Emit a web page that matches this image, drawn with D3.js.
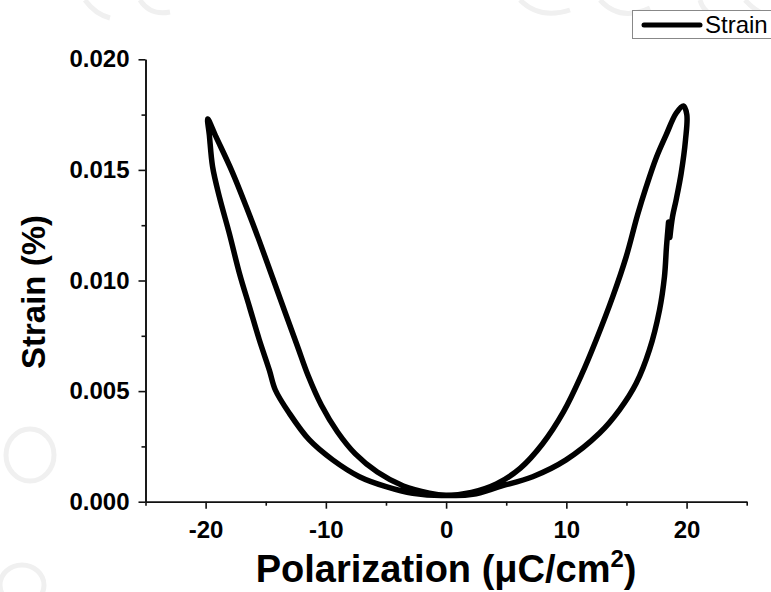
<!DOCTYPE html>
<html>
<head>
<meta charset="utf-8">
<script src="https://cdn.jsdelivr.net/npm/d3@7"></script>
<style>
  body { margin: 0; background: #fff; }
  svg { display: block; font-family: "Liberation Sans", Arial, sans-serif; }
</style>
</head>
<body>
<svg id="chart" width="771" height="592"></svg>
<script>
// butterfly loop (strain in %)
var polarization = [
    18.61, 18.83, 19.13, 19.55, 19.91, 20.02, 19.74,
    19.13, 18.30, 17.47, 16.64, 15.92, 14.98, 13.86, 12.48, 11.26, 9.76, 8.01, 6.18, 4.18, 2.11, 0.00,
    -2.78, -4.99, -7.21, -9.43, -11.37, -13.04, -14.20, -14.70, -15.53, -16.36, -17.19, -18.03, -18.86, -19.42, -19.69, -19.82,
    -19.13, -17.78, -16.61, -15.53, -14.45, -13.37, -12.37, -11.46, -10.38, -9.03, -7.55, -5.72, -3.55, -1.39, 0.00,
    2.21, 4.43, 7.20, 9.98, 12.75, 14.42, 15.81, 16.91, 17.75, 18.16, 18.33, 18.50
];
var strain = [
    0.01195, 0.01288, 0.01364, 0.01485, 0.01635, 0.01750, 0.01789,
    0.01756, 0.01658, 0.01554, 0.01423, 0.01296, 0.01108, 0.00927, 0.00731, 0.00573, 0.00406, 0.00261, 0.00152, 0.00080, 0.00042, 0.00028,
    0.00038, 0.00068, 0.00113, 0.00189, 0.00279, 0.00400, 0.00505, 0.00595, 0.00731, 0.00882, 0.01033, 0.01213, 0.01379, 0.01514, 0.01658, 0.01730,
    0.01649, 0.01490, 0.01332, 0.01178, 0.01016, 0.00853, 0.00704, 0.00568, 0.00437, 0.00315, 0.00216, 0.00134, 0.00071, 0.00039, 0.00029,
    0.00033, 0.00068, 0.00113, 0.00189, 0.00309, 0.00415, 0.00535, 0.00686, 0.00867, 0.01017, 0.01153, 0.01264
];
var xMajor = [-20, -10, 0, 10, 20];
var xMinor = [-25, -15, -5, 5, 15, 25];
var yMajor = [0, 0.005, 0.010, 0.015, 0.020];
var yMinor = [0.0025, 0.0075, 0.0125, 0.0175];
var seriesName = "Strain";

var svg = d3.select("#chart");
var width = 771, height = 592;
var margin = {top: 59.3, right: 24.3, bottom: 90.3, left: 145.5};

var xScale = d3.scaleLinear()
    .domain([-25, 25])
    .range([margin.left, width - margin.right]);
var yScale = d3.scaleLinear()
    .domain([0, 0.02])
    .range([height - margin.bottom, margin.top]);

// faint watermark traces left in the background of the source image
var ghost = svg.append("g").attr("fill", "none").attr("stroke", "#f0f0f0").attr("stroke-width", 5);
ghost.append("ellipse").attr("cx", 30).attr("cy", 455).attr("rx", 24).attr("ry", 26);
ghost.append("ellipse").attr("cx", 22).attr("cy", 585).attr("rx", 22).attr("ry", 20);
ghost.append("path").attr("d", "M85,0 Q95,14 110,18 M140,0 Q150,16 170,12 M520,0 Q540,20 570,10 M600,0 Q620,22 650,8 M700,0 Q705,18 730,20 M745,0 Q760,16 770,14");

var points = polarization.map(function(p, i) { return [p, strain[i]]; });

var line = d3.line()
    .x(function(d) { return xScale(d[0]); })
    .y(function(d) { return yScale(d[1]); })
    .curve(d3.curveCatmullRom.alpha(0.5));

svg.append("path")
    .datum(points)
    .attr("d", line)
    .attr("fill", "none")
    .attr("stroke", "#000")
    .attr("stroke-width", 5.5)
    .attr("stroke-linejoin", "round")
    .attr("stroke-linecap", "round");

// axes
var yPos = yScale(0), xPos = xScale(-25);

var xAxis = svg.append("g")
    .attr("transform", "translate(0," + yPos + ")")
    .call(d3.axisBottom(xScale).tickValues(xMajor).tickSize(7).tickSizeOuter(0)
        .tickFormat(function(d) { return String(d); }));
svg.append("g")
    .attr("transform", "translate(0," + yPos + ")")
    .call(d3.axisBottom(xScale).tickValues(xMinor).tickSize(4).tickSizeOuter(0).tickFormat(""));

var yAxis = svg.append("g")
    .attr("transform", "translate(" + xPos + ",0)")
    .call(d3.axisLeft(yScale).tickValues(yMajor).tickSize(7).tickSizeOuter(0)
        .tickFormat(d3.format(".3f")));
svg.append("g")
    .attr("transform", "translate(" + xPos + ",0)")
    .call(d3.axisLeft(yScale).tickValues(yMinor).tickSize(4).tickSizeOuter(0).tickFormat(""));

svg.selectAll(".domain, .tick line")
    .attr("stroke", "#111")
    .attr("stroke-width", 1.6);

xAxis.selectAll("text")
    .attr("y", 19)
    .style("font-size", "24px")
    .style("font-weight", "bold")
    .attr("fill", "#000");
yAxis.selectAll("text")
    .attr("x", -16)
    .style("font-size", "24px")
    .style("font-weight", "bold")
    .attr("fill", "#000");

// axis titles
var xTitle = svg.append("text")
    .attr("x", xScale(0))
    .attr("y", 582)
    .attr("text-anchor", "middle")
    .style("font-size", "38px")
    .style("font-weight", "bold")
    .attr("fill", "#000");
xTitle.append("tspan").text("Polarization (\u03bcC/cm");
xTitle.append("tspan").attr("dy", -15).style("font-size", "24px").text("2");
xTitle.append("tspan").attr("dy", 15).text(")");

svg.append("text")
    .attr("transform", "translate(45," + 292 + ") rotate(-90)")
    .attr("text-anchor", "middle")
    .style("font-size", "33px")
    .style("font-weight", "bold")
    .attr("fill", "#000")
    .text("Strain (%)");

// legend
var legend = svg.append("g");
legend.append("rect")
    .attr("x", 632.5).attr("y", 10.5)
    .attr("width", 140).attr("height", 28)
    .attr("fill", "#fff")
    .attr("stroke", "#888")
    .attr("stroke-width", 1);
legend.append("line")
    .attr("x1", 644).attr("x2", 700)
    .attr("y1", 25).attr("y2", 25)
    .attr("stroke", "#000")
    .attr("stroke-width", 5)
    .attr("stroke-linecap", "round");
legend.append("text")
    .attr("x", 705).attr("y", 33)
    .style("font-size", "24px")
    .attr("fill", "#000")
    .text(seriesName);
</script>
</body>
</html>
